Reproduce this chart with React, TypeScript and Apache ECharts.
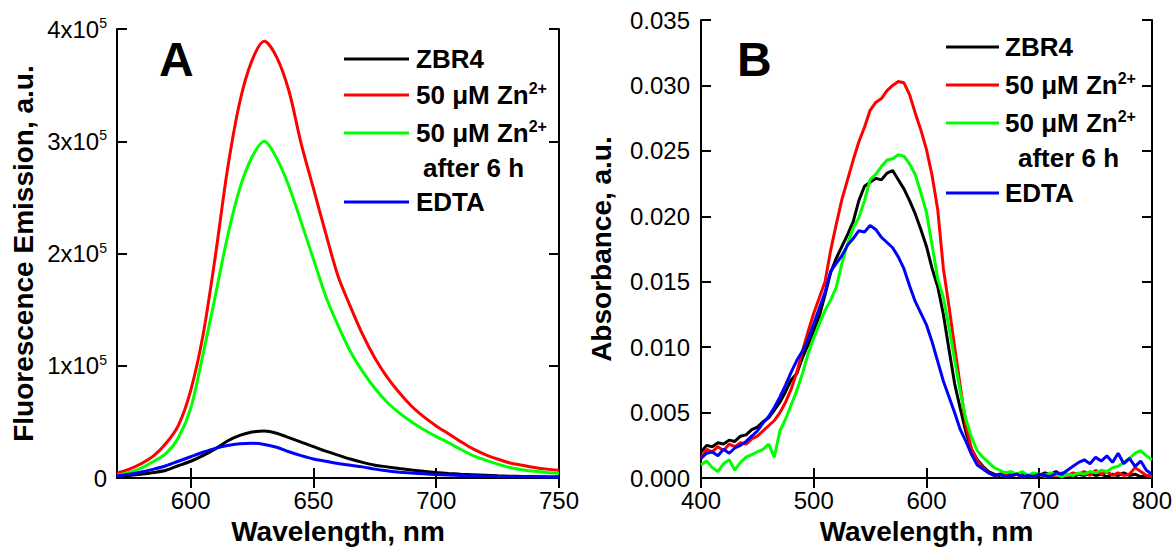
import React, { useEffect, useRef } from "react";
import * as echarts from "echarts";

// ---------- Panel A: fluorescence emission ----------
const WL_A = [570, 575, 580, 585, 590, 595, 600, 605, 610, 615, 620, 625, 630, 635, 640, 645, 650, 655, 660, 665, 670, 675, 680, 685, 690, 695, 700, 705, 710, 715, 720, 725, 730, 735, 740, 745, 750];
const A_ZBR4 = [1500, 2200, 3500, 5000, 7000, 11000, 15000, 20000, 26000, 33000, 38000, 41000, 42000, 40000, 36000, 32000, 28000, 24000, 20500, 17000, 14000, 11500, 10000, 8500, 7200, 6000, 5000, 4200, 3500, 3000, 2500, 2000, 1700, 1500, 1300, 1100, 1000];
const A_ZN = [4500, 8000, 13000, 20000, 31000, 47000, 78000, 127000, 197000, 275000, 335000, 372000, 389000, 375000, 345000, 298000, 258000, 218000, 180000, 153000, 128000, 107000, 90000, 76000, 64000, 54500, 46500, 39500, 32500, 26000, 21000, 17000, 13500, 11500, 9500, 8000, 7000];
const A_ZN6H = [2600, 5000, 9000, 15000, 22000, 36000, 62000, 110000, 162000, 215000, 258000, 286000, 300000, 285000, 260000, 228000, 195000, 162000, 136000, 113000, 95000, 80000, 67500, 58000, 50000, 43000, 37000, 31500, 25500, 20000, 16000, 12500, 9500, 7500, 6000, 5000, 4400];
const A_EDTA = [2000, 3500, 5500, 8000, 11000, 15000, 19000, 23000, 26500, 29000, 30500, 31000, 30000, 27500, 23500, 20000, 17000, 15000, 13000, 11500, 10000, 8000, 6500, 5200, 4500, 3800, 3200, 2700, 2300, 2000, 1700, 1500, 1300, 1200, 1100, 1000, 900];
const A_X_TICKS = [600, 650, 700, 750];

// ---------- Panel B: absorbance ----------
const WL_B = [400, 405, 410, 415, 420, 425, 430, 435, 440, 445, 450, 455, 460, 465, 470, 475, 480, 485, 490, 495, 500, 505, 510, 515, 520, 525, 530, 535, 540, 545, 550, 555, 560, 565, 570, 575, 580, 585, 590, 595, 600, 605, 610, 615, 620, 625, 630, 635, 640, 645, 650, 655, 660, 665, 670, 675, 680, 685, 690, 695, 700, 705, 710, 715, 720, 725, 730, 735, 740, 745, 750, 755, 760, 765, 770, 775, 780, 785, 790, 795, 800];
const B_ZBR4 = [0.0020, 0.0025, 0.0024, 0.0027, 0.0026, 0.0029, 0.0028, 0.0032, 0.0033, 0.0037, 0.0039, 0.0043, 0.0046, 0.0052, 0.0058, 0.0066, 0.0075, 0.0080, 0.0092, 0.0102, 0.0113, 0.0124, 0.0140, 0.0157, 0.0168, 0.0177, 0.0186, 0.0196, 0.0212, 0.0223, 0.0226, 0.0229, 0.0228, 0.0233, 0.0235, 0.0228, 0.0221, 0.0212, 0.0202, 0.0190, 0.0177, 0.0160, 0.0146, 0.0125, 0.0098, 0.0072, 0.0053, 0.0035, 0.0022, 0.0014, 0.0009, 0.0005, 0.0003, 0.0002, 0.0004, 0.0002, 0.0003, 0.0004, 0.0001, 0.0003, 0.0002, 0.0004, 0.0003, 0.0005, 0.0002, 0.0003, 0.0001, 0.0003, 0.0002, 0.0004, 0.0002, 0.0003, 0.0001, 0.0003, 0.0002, 0.0004, 0.0002, 0.0003, 0.0001, 0.0002, 0.0001];
const B_ZN = [0.0015, 0.0022, 0.0020, 0.0024, 0.0021, 0.0026, 0.0024, 0.0027, 0.0026, 0.0030, 0.0032, 0.0036, 0.0040, 0.0044, 0.0050, 0.0058, 0.0068, 0.0081, 0.0097, 0.0112, 0.0126, 0.0138, 0.0150, 0.0174, 0.0194, 0.0213, 0.0228, 0.0243, 0.0257, 0.0268, 0.0281, 0.0287, 0.0290, 0.0296, 0.0300, 0.0303, 0.0302, 0.0293, 0.0279, 0.0266, 0.0251, 0.0231, 0.0205, 0.0160, 0.0131, 0.0100, 0.0070, 0.0040, 0.0022, 0.0013, 0.0008, 0.0004, 0.0002, 0.0003, 0.0004, 0.0002, 0.0003, 0.0001, 0.0002, 0.0001, 0.0003, 0.0001, 0.0003, 0.0002, 0.0004, 0.0002, 0.0004, 0.0003, 0.0005, 0.0002, 0.0006, 0.0003, 0.0005, 0.0002, 0.0004, 0.0002, 0.0003, 0.0008, 0.0005, 0.0002, 0.0001];
const B_ZN6H = [0.0010, 0.0013, 0.0008, 0.0005, 0.0011, 0.0014, 0.0006, 0.0012, 0.0016, 0.0018, 0.0020, 0.0022, 0.0026, 0.0016, 0.0036, 0.0045, 0.0056, 0.0067, 0.0080, 0.0095, 0.0107, 0.0118, 0.0128, 0.0136, 0.0146, 0.0164, 0.0179, 0.0191, 0.0199, 0.0212, 0.0228, 0.0232, 0.0238, 0.0243, 0.0244, 0.0247, 0.0246, 0.0240, 0.0232, 0.0218, 0.0203, 0.0178, 0.0152, 0.0138, 0.0115, 0.0090, 0.0066, 0.0045, 0.0031, 0.0021, 0.0016, 0.0012, 0.0008, 0.0006, 0.0004, 0.0005, 0.0003, 0.0005, 0.0002, 0.0004, 0.0003, 0.0002, 0.0004, 0.0003, 0.0001, 0.0003, 0.0002, 0.0004, 0.0003, 0.0005, 0.0004, 0.0006, 0.0005, 0.0008, 0.0009, 0.0012, 0.0015, 0.0019, 0.0021, 0.0017, 0.0014];
const B_EDTA = [0.0015, 0.0019, 0.0020, 0.0017, 0.0022, 0.0019, 0.0023, 0.0025, 0.0028, 0.0032, 0.0036, 0.0042, 0.0047, 0.0054, 0.0062, 0.0071, 0.0081, 0.0090, 0.0097, 0.0106, 0.0118, 0.0130, 0.0142, 0.0158, 0.0164, 0.0170, 0.0178, 0.0183, 0.0189, 0.0188, 0.0193, 0.0190, 0.0184, 0.0180, 0.0176, 0.0169, 0.0160, 0.0147, 0.0135, 0.0126, 0.0117, 0.0104, 0.0089, 0.0074, 0.0062, 0.0050, 0.0037, 0.0028, 0.0018, 0.0010, 0.0007, 0.0004, 0.0002, 0.0003, 0.0001, 0.0002, 0.0003, 0.0001, 0.0002, 0.0001, 0.0003, 0.0002, 0.0001, 0.0004, 0.0003, 0.0006, 0.0009, 0.0012, 0.0014, 0.0011, 0.0016, 0.0013, 0.0017, 0.0012, 0.0019, 0.0011, 0.0015, 0.0009, 0.0013, 0.0006, 0.0003];

const SERIES_NAMES = ["ZBR4", "50 μM Zn2+", "50 μM Zn2+ after 6 h", "EDTA"];
const COLORS = ["#000000", "#ff0000", "#00ff00", "#0000ff"];

const FONT = "'Liberation Sans', Arial, sans-serif";

function zip(xs: number[], ys: number[]) {
  return xs.map((x, i) => [x, ys[i]]);
}

const axisLineStyle = { show: true, lineStyle: { color: "#000", width: 2 } };
const tickStyle = { show: true, inside: true, length: 10, lineStyle: { color: "#000", width: 2 } };

function legend(x0: number, x1: number, xt: number, xAfter: number, ys: number[], yAfter: number) {
  const els: any[] = [];
  const labels = ["ZBR4", "50 μM Zn{s|2+}", "50 μM Zn{s|2+}", "EDTA"];
  ys.forEach((y, i) => {
    els.push({
      type: "line",
      shape: { x1: x0, y1: y, x2: x1, y2: y },
      style: { stroke: COLORS[i], lineWidth: 3 },
      silent: true,
    });
    els.push({
      type: "text",
      x: xt,
      y: y,
      style: {
        text: labels[i],
        fontFamily: FONT,
        fontSize: 26,
        fontWeight: "bold",
        fill: "#000",
        verticalAlign: "middle",
        align: "left",
        rich: {
          s: { fontFamily: FONT, fontSize: 16, fontWeight: "bold", fill: "#000", verticalAlign: "bottom", padding: [0, 0, 14, 0] },
        },
      },
      silent: true,
    });
  });
  els.push({
    type: "text",
    x: xAfter,
    y: yAfter,
    style: { text: "after 6 h", fontFamily: FONT, fontSize: 26, fontWeight: "bold", fill: "#000", verticalAlign: "middle", align: "left" },
    silent: true,
  });
  return els;
}

export default function App() {
  const ref = useRef<HTMLDivElement>(null);
  useEffect(() => {
    const chart = echarts.init(ref.current!, null, { renderer: "svg" });
    const dataA = [A_ZBR4, A_ZN, A_ZN6H, A_EDTA];
    const dataB = [B_ZBR4, B_ZN, B_ZN6H, B_EDTA];
    const series: any[] = [];
    dataA.forEach((d, i) => {
      series.push({
        type: "line",
        name: SERIES_NAMES[i],
        xAxisIndex: 0,
        yAxisIndex: 0,
        data: zip(WL_A, d),
        showSymbol: false,
        smooth: 0.3,
        lineStyle: { color: COLORS[i], width: 3 },
        itemStyle: { color: COLORS[i] },
      });
    });
    dataB.forEach((d, i) => {
      series.push({
        type: "line",
        name: SERIES_NAMES[i] + " ",
        xAxisIndex: 2,
        yAxisIndex: 2,
        data: zip(WL_B, d),
        showSymbol: false,
        lineStyle: { color: COLORS[i], width: 3 },
        itemStyle: { color: COLORS[i] },
      });
    });

    const labelBase = { fontFamily: FONT, fontSize: 24, color: "#000" };
    const nameStyle = { fontFamily: FONT, fontSize: 28, fontWeight: "bold", color: "#000" };

    chart.setOption({
      animation: false,
      backgroundColor: "#fff",
      grid: [
        { left: 117, top: 29, width: 442, height: 454 },
        { left: 701, top: 20, width: 452, height: 463 },
      ],
      xAxis: [
        {
          gridIndex: 0, type: "value", min: 570, max: 750, position: "bottom",
          axisLine: axisLineStyle,
          axisTick: { ...tickStyle, customValues: A_X_TICKS },
          axisLabel: { ...labelBase, margin: 10, customValues: A_X_TICKS },
          splitLine: { show: false },
          name: "Wavelength, nm", nameLocation: "middle", nameGap: 34, nameTextStyle: nameStyle,
        },
        {
          gridIndex: 0, type: "value", min: 570, max: 750, position: "top",
          axisLine: axisLineStyle,
          axisTick: { ...tickStyle, customValues: A_X_TICKS },
          axisLabel: { show: false },
          splitLine: { show: false },
        },
        {
          gridIndex: 1, type: "value", min: 400, max: 800, interval: 100, position: "bottom",
          axisLine: axisLineStyle,
          axisTick: tickStyle,
          axisLabel: { ...labelBase, margin: 10 },
          splitLine: { show: false },
          name: "Wavelength, nm", nameLocation: "middle", nameGap: 34, nameTextStyle: nameStyle,
        },
        {
          gridIndex: 1, type: "value", min: 400, max: 800, interval: 100, position: "top",
          axisLine: axisLineStyle,
          axisTick: tickStyle,
          axisLabel: { show: false },
          splitLine: { show: false },
        },
      ],
      yAxis: [
        {
          gridIndex: 0, type: "value", min: 0, max: 400000, interval: 100000, position: "left",
          axisLine: axisLineStyle,
          axisTick: tickStyle,
          axisLabel: {
            ...labelBase, margin: 10,
            formatter: (v: number) => (v === 0 ? "0" : `{m|${Math.round(v / 100000)}x10}{s|5}`),
            rich: {
              m: { fontFamily: FONT, fontSize: 24, color: "#000" },
              s: { fontFamily: FONT, fontSize: 14, color: "#000", verticalAlign: "bottom", padding: [0, 0, 12, 0] },
            },
          },
          splitLine: { show: false },
          name: "Fluorescence Emission, a.u.", nameLocation: "middle", nameGap: 80, nameTextStyle: nameStyle,
        },
        {
          gridIndex: 0, type: "value", min: 0, max: 400000, interval: 100000, position: "right",
          axisLine: axisLineStyle,
          axisTick: tickStyle,
          axisLabel: { show: false },
          splitLine: { show: false },
        },
        {
          gridIndex: 1, type: "value", min: 0, max: 0.035, interval: 0.005, position: "left",
          axisLine: axisLineStyle,
          axisTick: tickStyle,
          axisLabel: { ...labelBase, margin: 11, formatter: (v: number) => v.toFixed(3) },
          splitLine: { show: false },
          name: "Absorbance, a.u.", nameLocation: "middle", nameGap: 86, nameTextStyle: nameStyle,
        },
        {
          gridIndex: 1, type: "value", min: 0, max: 0.035, interval: 0.005, position: "right",
          axisLine: axisLineStyle,
          axisTick: tickStyle,
          axisLabel: { show: false },
          splitLine: { show: false },
        },
      ],
      series,
      graphic: {
        elements: [
          {
            type: "text", x: 159, y: 59,
            style: { text: "A", fontFamily: FONT, fontSize: 48, fontWeight: "bold", fill: "#000", verticalAlign: "middle", align: "left" },
            silent: true,
          },
          {
            type: "text", x: 737, y: 59,
            style: { text: "B", fontFamily: FONT, fontSize: 48, fontWeight: "bold", fill: "#000", verticalAlign: "middle", align: "left" },
            silent: true,
          },
          ...legend(344, 409, 416, 423, [59, 95, 133, 202], 168),
          ...legend(946, 999, 1005, 1018, [47, 85, 123, 193], 158),
        ],
      },
    });
    return () => chart.dispose();
  }, []);
  return (
    <div
      ref={ref}
      style={{ position: "fixed", left: 0, top: 0, width: 1175, height: 550, background: "#fff" }}
    />
  );
}
